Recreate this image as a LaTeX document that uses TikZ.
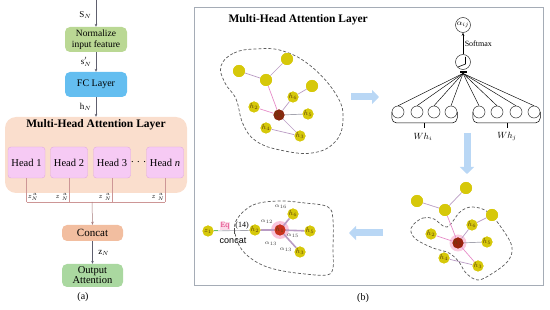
\documentclass[tikz,border=0pt]{standalone}
\usepackage{fontspec}
\setmainfont{Liberation Serif}
\newfontfamily\sansf{Liberation Sans}
\usetikzlibrary{arrows.meta,calc}
\definecolor{normg}{RGB}{186,216,148}
\definecolor{fcblue}{RGB}{100,190,240}
\definecolor{mhafill}{RGB}{250,222,205}
\definecolor{headpink}{RGB}{246,202,244}
\definecolor{headborder}{RGB}{225,170,225}
\definecolor{concatc}{RGB}{242,190,160}
\definecolor{outg}{RGB}{170,216,160}
\definecolor{zline}{RGB}{205,150,150}
\definecolor{arrowgray}{RGB}{95,95,110}
\definecolor{framegray}{RGB}{165,172,182}
\definecolor{ynode}{RGB}{214,200,10}
\definecolor{hdark}{RGB}{135,40,15}
\definecolor{hred}{RGB}{200,50,30}
\definecolor{glow}{RGB}{248,180,210}
\definecolor{edgel}{RGB}{185,155,195}
\definecolor{edgep}{RGB}{230,140,200}
\definecolor{edgeg}{RGB}{165,165,175}
\definecolor{labc}{RGB}{95,65,10}
\definecolor{bluearr}{RGB}{185,215,245}
\definecolor{eqred}{RGB}{225,50,120}
\definecolor{dashc}{RGB}{90,90,90}
\begin{document}
\begin{tikzpicture}[x=1pt,y=-1pt,
  box/.style={rounded corners=5pt, minimum width=62pt, align=center, inner sep=1pt},
  headbox/.style={fill=headpink, draw=headborder, line width=0.4pt, rounded corners=3pt, minimum width=37pt, minimum height=31pt, inner sep=0pt, font=\fontsize{10.5}{11}\selectfont},
  flow/.style={-{Stealth[length=3pt,width=2.6pt]}, draw=arrowgray, line width=0.5pt},
  zl/.style={draw=zline, line width=0.6pt},
  small/.style={font=\fontsize{9}{9}\selectfont, inner sep=0.5pt},
  zlab/.style={font=\fontsize{7}{7}\selectfont, inner sep=0pt},
  gn/.style={circle, fill=ynode, minimum size=12pt, inner sep=0pt},
  hn/.style={circle, fill=ynode, minimum size=11pt, inner sep=0pt, text=labc, font=\fontsize{7}{7}\selectfont},
  hcore/.style={circle, fill=hdark, minimum size=11pt, inner sep=0pt, text=labc, font=\fontsize{7}{7}\selectfont},
  el/.style={draw=edgel, line width=0.7pt},
  ep/.style={draw=edgep, line width=0.7pt},
  eg/.style={draw=edgeg, line width=0.7pt},
  blob/.style={draw=dashc, dash pattern=on 3pt off 2pt, line width=0.7pt},
  bigarrow/.style={draw=bluearr, line width=7pt, -{Triangle[width=14pt,length=7pt]}},
  pc/.style={circle, draw=black!80, line width=0.5pt, minimum size=12pt, inner sep=0pt},
  alab/.style={font=\fontsize{6.5}{6.5}\selectfont, text=black!75, inner sep=0pt}
]
\useasboundingbox (0,0) rectangle (550,310);

% ================= panel (a) =================
\coordinate (top) at (96,0);
\node[box, fill=normg, minimum height=25pt, font=\fontsize{9.5}{10.5}\selectfont] (norm) at (96,39.5) {Normalize\\input feature};
\node[box, fill=fcblue, minimum height=25pt, font=\fontsize{10}{11}\selectfont] (fc) at (96,84.5) {FC Layer};
\node[fill=mhafill, rounded corners=11pt, minimum width=182pt, minimum height=76pt, inner sep=0pt] (mha) at (96,155) {};
\node[font=\fontsize{11.5}{12}\selectfont\bfseries] (mhat) at (96,125) {Multi-Head Attention Layer};

\draw[flow] (top) -- (norm.north) node[pos=0.55, left=4pt, small] {S$_N$};
\draw[flow] (norm.south) -- (fc.north) node[midway, left=4pt, small] {s$'_N$};
\draw[flow] (fc.south) -- (mha.north) node[midway, left=4pt, small] {h$_N$};

\node[headbox] (h1) at (26.5,162.5) {Head 1};
\node[headbox] (h2) at (69,162.5) {Head 2};
\node[headbox] (h3) at (112,162.5) {Head 3};
\node[headbox] (hn) at (165,162.5) {Head \textit{n}};
\node[font=\fontsize{10.5}{11}\selectfont] (dots) at (138.5,162) {. . .};

\coordinate (bus) at (92,202);
\draw[zl] (h1.south) -- (h1.south |- bus);
\draw[zl] (h2.south) -- (h2.south |- bus);
\draw[zl] (h3.south) -- (h3.south |- bus);
\draw[zl] (hn.south) -- (hn.south |- bus);
\draw[zl] (h1.south |- bus) -- (hn.south |- bus);

\node[zlab] (za1) at (33,197) {$z_{N}^{\,a}$};
\node[zlab] (za2) at (62,197) {$z\;{}_{N}^{\,a}$};
\node[zlab] (za3) at (105,197) {$z\;{}_{N}^{\,a}$};
\node[zlab] (za4) at (158,197) {$z\;{}_{N}^{\,a}$};

\node[box, fill=concatc, minimum width=61pt, minimum height=16pt, font=\fontsize{11}{12}\selectfont] (concat) at (92.5,233) {Concat};
\node[box, fill=outg, minimum width=61pt, minimum height=23pt, font=\fontsize{10.5}{11}\selectfont] (out) at (92.5,275.5) {Output\\[-1pt]Attention};
\draw[flow, draw=zline!80!black] (bus) -- (concat.north);
\draw[flow] (concat.south) -- (out.north) node[midway, right=5pt, small] {z$_N$};
\node[font=\fontsize{10}{11}\selectfont] (capa) at (83,297) {(a)};

% ================= panel (b) =================
\draw[draw=framegray, line width=0.6pt] (194,7) rectangle (543,285);
\node[font=\fontsize{11.5}{12}\selectfont\bfseries, anchor=west] (mhat2) at (225,20) {Multi-Head Attention Layer};
\node[font=\fontsize{10}{11}\selectfont] (capb) at (363,298) {(b)};

% ---- top-left graph ----
\draw[blob] plot[smooth cycle, tension=0.7] coordinates {(221,66) (234,53) (256,49) (283,51) (312,67) (337,96) (343,120) (335,142) (312,153) (280,150) (256,141) (243,124) (236,99) (225,83)};
\node[gn] (a1) at (287,59) {};
\node[gn] (b1) at (239,71) {};
\node[gn] (c1) at (266,80) {};
\node[gn] (d1) at (312,86) {};
\node[hn] (g6) at (293,97) {$h_6$};
\node[hn] (g2) at (254,107) {$h_2$};
\node[hn] (g5) at (308,114) {$h_5$};
\node[hn] (g4) at (266,128) {$h_4$};
\node[hn] (g3) at (300,136) {$h_3$};
\node[hcore] (g1) at (279,115) {$h_1$};
\draw[el] (a1) -- (c1);
\draw[el] (b1) -- (c1);
\draw[ep] (c1) -- (g1);
\draw[el] (d1) -- (g6);
\draw[el] (g6) -- (g1);
\draw[ep] (g2) -- (g1);
\draw[eg] (g5) -- (g1);
\draw[el] (g1) -- (g3);
\draw[el] (g4) -- (g3);
\node[gn] at (a1) {}; \node[gn] at (b1) {}; \node[gn] at (c1) {}; \node[gn] at (d1) {};
\node[hn] at (g6) {$h_6$}; \node[hn] at (g2) {$h_2$}; \node[hn] at (g5) {$h_5$};
\node[hn] at (g4) {$h_4$}; \node[hn] at (g3) {$h_3$}; \node[hcore] at (g1) {$h_1$};

% ---- top-right attention mechanism ----
\node[circle, draw=black!80, line width=0.5pt, minimum size=15pt, inner sep=0pt, font=\fontsize{8}{8}\selectfont] (alpha) at (463,25) {$\alpha_{ij}$};
\node[circle, draw=black!80, line width=0.5pt, minimum size=15pt, inner sep=0pt] (act) at (463,62) {};
\draw[line width=0.6pt] ($(act.center)+(-5,5)$) -- ($(act.center)+(2.5,2)$) -- ($(act.center)+(2.5,-5)$);
\draw[-{Stealth[length=3pt,width=2.5pt]}, line width=0.5pt] (act) -- (alpha) node[midway, right=0.5pt, font=\fontsize{8}{8}\selectfont, inner sep=1pt] {Softmax};
\node[fill=black, minimum width=7pt, minimum height=2.5pt, inner sep=0pt] (bar) at (463,72) {};
\foreach \n/\x in {1/398,2/417,3/434,4/451,5/479,6/497,7/516,8/534}{
  \node[pc] (p\n) at (\x,112) {};
  \draw[line width=0.45pt] (bar.south) -- (p\n.north);
}
\draw[line width=0.5pt, rounded corners=5pt] (p1.west) -- (p1.west |- 0,123) -- (p4.east |- 0,123) -- (p4.east);
\draw[line width=0.5pt, rounded corners=5pt] (p5.west) -- (p5.west |- 0,123) -- (p8.east |- 0,123) -- (p8.east);
\coordinate (bi) at (424,123);
\coordinate (bj) at (507,123);
\draw[line width=0.5pt] (bi) -- ++(0,5);
\draw[line width=0.5pt] (bj) -- ++(0,5);
\node[font=\fontsize{9}{9}\selectfont] (whi) at (423,137) {$Wh_i$};
\node[font=\fontsize{9}{9}\selectfont] (whj) at (507,136) {$Wh_j$};

% ---- big arrows ----
\coordinate (ar1s) at (351,97); \coordinate (ar1e) at (379,97);
\coordinate (ar2s) at (467,133); \coordinate (ar2e) at (467,174);
\coordinate (ar3s) at (383,233); \coordinate (ar3e) at (349,233);
\draw[bigarrow] (ar1s) -- (ar1e);
\draw[bigarrow] (ar2s) -- (ar2e);
\draw[bigarrow] (ar3s) -- (ar3e);

% ---- bottom-right graph ----
\draw[blob] plot[smooth cycle, tension=0.6] coordinates {(413,225) (423,218) (434,219) (447,227) (460,212) (472,207) (488,212) (503,230) (512,247) (508,261) (493,273) (478,280) (466,273) (459,262) (449,253) (433,248) (417,240) (411,232)};
\node[gn] (a2) at (466,188) {};
\node[gn] (b2) at (417,201) {};
\node[gn] (c2) at (445,210) {};
\node[gn] (d2) at (492,215) {};
\node[hn] (k6) at (472,225) {$h_6$};
\node[hn] (k2) at (431,234) {$h_2$};
\node[hn] (k5) at (487,242) {$h_5$};
\node[hn] (k4) at (444,258) {$h_4$};
\node[hn] (k3) at (478,266) {$h_3$};
\node[circle, fill=glow, minimum size=17pt, inner sep=0pt, opacity=0.7] (k1g) at (458,243) {};
\node[hcore, fill=hdark!85!red] (k1) at (458,243) {$h_1$};
\draw[el] (a2) -- (c2);
\draw[el] (b2) -- (c2);
\draw[ep] (c2) -- (k1);
\draw[el] (d2) -- (k6);
\draw[el] (k6) -- (k1);
\draw[ep] (k2) -- (k1);
\draw[eg] (k5) -- (k1);
\draw[ep] (k1) -- (k3);
\draw[el] (k4) -- (k3);
\node[gn] at (a2) {}; \node[gn] at (b2) {}; \node[gn] at (c2) {}; \node[gn] at (d2) {};
\node[hn] at (k6) {$h_6$}; \node[hn] at (k2) {$h_2$}; \node[hn] at (k5) {$h_5$};
\node[hn] at (k4) {$h_4$}; \node[hn] at (k3) {$h_3$}; \node[hcore, fill=hdark!85!red] at (k1) {$h_1$};

% ---- bottom-left graph ----
\draw[blob] plot[smooth cycle, tension=0.6] coordinates {(237,219) (253,205) (278,201) (305,203) (328,207) (333,220) (333,250) (333,268) (327,275) (305,274) (278,270) (258,263) (242,250) (235,233)};
\node[hn] (z1) at (208,231) {$z_1$};
\node[hn] (m2) at (255,230) {$h_2$};
\node[hn] (m6) at (293,214) {$h_6$};
\node[hn] (m5) at (310,231) {$h_5$};
\node[hn] (m3) at (300,252) {$h_3$};
\node[circle, fill=glow, minimum size=18pt, inner sep=0pt, opacity=0.8] (m1g) at (280,230) {};
\node[hcore, fill=hred] (m1) at (280,230) {$h_1$};
\draw[draw=edgeg, line width=0.6pt] (z1) -- (m1);
\coordinate (gz) at (218,231);
\draw[draw=green!60!black!60, line width=1pt] (z1.east) -- (gz);
\coordinate (tk1) at (234,228); \coordinate (tk2) at (234,234);
\draw[line width=0.4pt, black!70] (tk1) -- (tk2);
\draw[draw=edgel, line width=1.6pt] (m1) -- (m2);
\draw[draw=edgel, line width=1.6pt] (m1) -- (m6);
\draw[draw=edgel, line width=1.6pt] (m1) -- (m5);
\draw[draw=edgel, line width=1.6pt] (m1) -- (m3);
\node[hn] at (z1) {$z_1$}; \node[hn] at (m2) {$h_2$}; \node[hn] at (m6) {$h_6$};
\node[hn] at (m5) {$h_5$}; \node[hn] at (m3) {$h_3$}; \node[hcore, fill=hred] at (m1) {$h_1$};
\node[font=\fontsize{8}{8}\selectfont, text=eqred, fill=glow!50, inner sep=0.5pt] (eq) at (225,226) {Eq};
\node[font=\fontsize{8}{8}\selectfont, inner sep=0pt] (eqn) at (242,226) {(14)};
\node[font=\fontsize{9}{9}\selectfont\sansf, inner sep=0pt] (cc) at (233,241) {concat};
\node[alab] (a12) at (267,222) {$\alpha_{12}$};
\node[alab] (a16) at (281,207) {$\alpha_{16}$};
\node[alab] (a15) at (293,236) {$\alpha_{15}$};
\node[alab] (a13a) at (271,244) {$\alpha_{13}$};
\node[alab] (a13b) at (286,250) {$\alpha_{13}$};
\end{tikzpicture}
\end{document}
